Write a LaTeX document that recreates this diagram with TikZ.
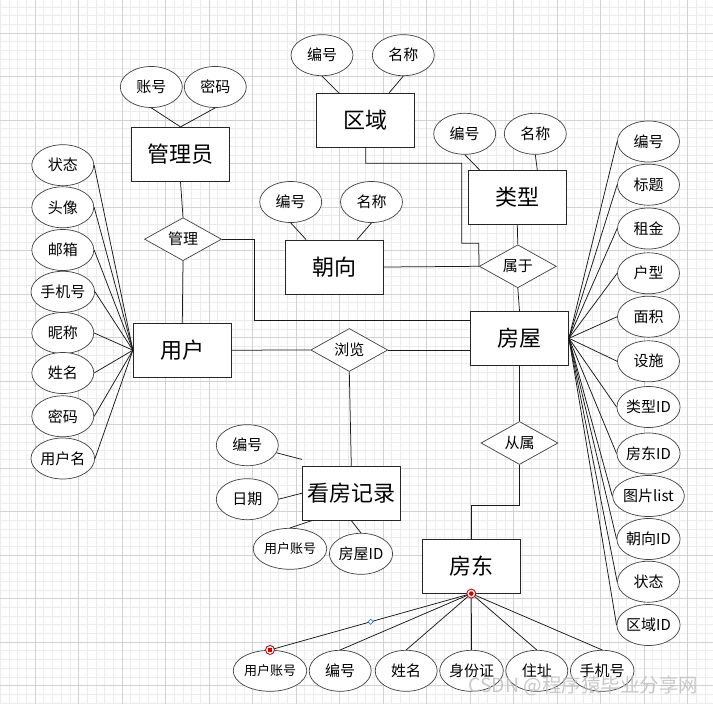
\documentclass[tikz,border=0pt]{standalone}
\usepackage{fontspec}
\setmainfont{Noto Sans CJK SC}
\usetikzlibrary{shapes.geometric,calc}
\begin{document}
\begin{tikzpicture}[x=1pt,y=-1pt,
 ent/.style={draw=black!85, fill=white, minimum width=98pt, minimum height=54pt, inner sep=0pt, font=\fontsize{22}{26}\selectfont, line width=0.8pt},
 attr/.style={ellipse, draw=black!75, fill=white, minimum width=62pt, minimum height=41pt, inner sep=0pt, font=\fontsize{15}{18}\selectfont, line width=0.7pt},
 sattr/.style={attr, font=\fontsize{13}{15}\selectfont},
 rel/.style={diamond, aspect=1.8, draw=black!75, fill=white, minimum width=77pt, minimum height=43pt, inner sep=0pt, font=\fontsize{15}{18}\selectfont, line width=0.7pt},
 conn/.style={draw=black!90, line width=0.75pt},
 minorg/.style={draw=gray!15, line width=0.6pt},
 majorg/.style={draw=gray!35, line width=0.8pt}]
\useasboundingbox (0,0) rectangle (713,704);
\fill[white] (0,0) rectangle (713,704);
% grid
\foreach \i in {-4,...,78} {\draw[minorg] ({35+8.7*\i},0) -- ({35+8.7*\i},704);}
\foreach \i in {-3,...,77} {\draw[minorg] (0,{33+8.7*\i}) -- (713,{33+8.7*\i});}
\foreach \j in {-1,...,15} {\draw[majorg] ({35+43.5*\j},0) -- ({35+43.5*\j},704);}
\foreach \j in {-1,...,15} {\draw[majorg] (0,{33+43.5*\j}) -- (713,{33+43.5*\j});}

% entities
\node[ent] (gly) at (180.5,154.3) {管理员};
\node[ent] (qy) at (365.8,120.2) {区域};
\node[ent] (lx) at (517.3,197.3) {类型};
\node[ent] (cx) at (334.5,267) {朝向};
\node[ent] (yh) at (182.3,350.2) {用户};
\node[ent] (fw) at (519.5,338.3) {房屋};
\node[ent] (kf) at (351.3,493.2) {看房记录};
\node[ent] (fd) at (471.3,566.2) {房东};

% relations
\node[rel] (gl) at (183,239.2) {管理};
\node[rel] (sy) at (517.8,266.3) {属于};
\node[rel] (ll) at (349.3,350) {浏览};
\node[rel] (cs) at (519.5,443) {从属};

% attributes of 管理员
\node[attr] (gzh) at (151.3,87) {账号};
\node[attr] (gmm) at (215.3,87) {密码};
% 区域
\node[attr] (qbh) at (322,55.2) {编号};
\node[attr] (qmc) at (403.3,55.2) {名称};
% 类型
\node[attr] (lbh) at (464.7,133.8) {编号};
\node[attr] (lmc) at (535.3,133.8) {名称};
% 朝向
\node[attr] (cbh) at (290.7,202) {编号};
\node[attr] (cmc) at (371.5,202) {名称};
% 用户
\node[attr] (u1) at (62.8,165.2) {状态};
\node[attr] (u2) at (62.8,207.3) {头像};
\node[attr] (u3) at (62.8,250) {邮箱};
\node[attr] (u4) at (62.8,291.8) {手机号};
\node[attr] (u5) at (62.8,333) {昵称};
\node[attr] (u6) at (62.8,373) {姓名};
\node[attr] (u7) at (62.8,416.3) {密码};
\node[attr] (u8) at (62.8,458.5) {用户名};
% 房屋
\node[attr] (h1) at (648.5,141.5) {编号};
\node[attr] (h2) at (648.5,184.7) {标题};
\node[attr] (h3) at (648.5,228.5) {租金};
\node[attr] (h4) at (648.5,273.3) {户型};
\node[attr] (h5) at (648.5,316.7) {面积};
\node[attr] (h6) at (648.5,361.3) {设施};
\node[attr] (h7) at (648.5,407) {类型ID};
\node[attr] (h8) at (648.5,453.5) {房东ID};
\node[attr] (h9) at (648.5,496) {图片list};
\node[attr] (h10) at (648.5,539) {朝向ID};
\node[attr] (h11) at (648.5,581.7) {状态};
\node[attr] (h12) at (648.5,625) {区域ID};
% 看房记录
\node[attr] (kbh) at (247.3,445.2) {编号};
\node[attr] (krq) at (247.3,499.2) {日期};
\node[sattr] (kzh) at (290,548.8) {用户账号};
\node[attr] (kid) at (361,553.8) {房屋ID};
% 房东
\node[sattr] (d1) at (270,670.8) {用户账号};
\node[attr] (d2) at (340.2,670.8) {编号};
\node[attr] (d3) at (406.2,670.8) {姓名};
\node[attr] (d4) at (471.5,670.8) {身份证};
\node[attr] (d5) at (536.8,670.8) {住址};
\node[attr] (d6) at (602.2,670.8) {手机号};

% junction coordinates
\coordinate (c1) at (254.3,320.2);
\coordinate (q1) at (365.8,163.3);
\coordinate (q2) at (461.7,163.3);
\coordinate (q3) at (461.7,243.3);
\coordinate (q4) at (478.8,243.3);
\coordinate (s1) at (471.3,505);

% connectors
\draw[conn] (gzh.south) -- (gly.north);
\draw[conn] (gmm.south) -- (gly.north);
\draw[conn] (qbh.south) -- ([xshift=22.3pt]qy.north west);
\draw[conn] (qmc.south) -- ([xshift=-26pt]qy.north east);
\draw[conn] (lbh.south) -- ([xshift=11.7pt]lx.north west);
\draw[conn] (lmc.south) -- ([xshift=20pt]lx.north);
\draw[conn] (cbh.south) -- ([xshift=21pt]cx.north west);
\draw[conn] (cmc.south) -- ([xshift=22.5pt]cx.north);

\foreach \u in {u1,u2,u3,u4,u5,u6,u7,u8} {\draw[conn] (\u.east) -- (yh.west);}
\foreach \h in {h1,h2,h3,h4,h5,h6,h7,h8,h9,h10,h11,h12} {\draw[conn] (\h.west) -- (fw.east);}

\draw[conn] (gly.south) -- (gl.north);
\draw[conn] (gl.south) -- (yh.north);
\draw[conn] (gl.east) -| (c1) -- (c1 -| fw.west);
\draw[conn] (qy.south) -- (q1) -- (q2) -- (q3) -- (q4) -- (sy.west);
\draw[conn] (cx.east) -- (sy.west);
\draw[conn] (lx.south) -- (sy.north);
\draw[conn] (sy.south) -- (fw.north);
\draw[conn] (yh.east) -- (ll.west);
\draw[conn] (ll.east) -- (ll.east -| fw.west);
\draw[conn] (ll.south) -- (kf.north);
\draw[conn] (fw.south) -- (cs.north);
\draw[conn] (cs.south) |- (s1) -- (fd.north);

\draw[conn] (kbh) -- ([yshift=6.4pt]kf.north west);
\draw[conn] (krq.east) -- (kf.west);
\draw[conn] (kzh.north) -- ([xshift=10pt]kf.south west);
\draw[conn] (kid.north) -- (kf.south);

\foreach \d in {d1,d2,d3,d4,d5,d6} {\draw[conn] (fd.south) -- (\d.north);}

% selection markers
\node[circle, draw=red!85!black, fill=white, line width=0.9pt, minimum size=9pt, inner sep=0pt] (m1) at (fd.south) {};
\fill[red!85!black] (m1.center) circle (2.3pt);
\node[circle, draw=red!85!black, fill=white, line width=0.9pt, minimum size=9pt, inner sep=0pt] (m2) at (d1.north) {};
\fill[red!85!black] ($(m2.center)+(-2.3,-2.3)$) rectangle ($(m2.center)+(2.3,2.3)$);
\node[diamond, draw=blue!60!cyan, fill=white, line width=0.6pt, minimum size=5.5pt, inner sep=0pt] (m3) at ($(fd.south)!0.5!(d1.north)$) {};

% watermark
\node[anchor=west, font=\fontsize{19.5}{23}\selectfont, text=gray!50, opacity=0.85, inner sep=0pt] (wm) at (468,686) {CSDN @程序猿毕业分享网};
\end{tikzpicture}
\end{document}
